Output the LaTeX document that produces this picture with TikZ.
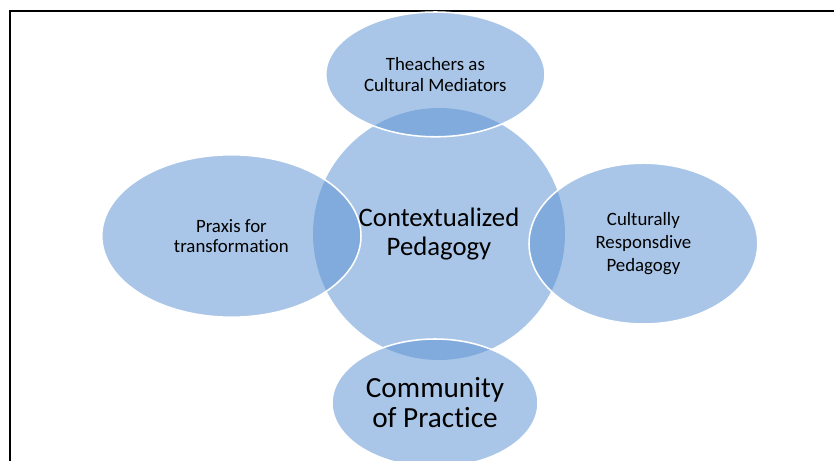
\documentclass[tikz,border=0pt]{standalone}
\usepackage{fontspec}
\setmainfont{Carlito}[Ligatures=NoCommon]
\usetikzlibrary{shapes.geometric}

\definecolor{venblue}{RGB}{91,146,210}

\begin{document}
\begin{tikzpicture}

\tikzset{
    oval/.style args={#1and#2}{
        shape=ellipse,
        minimum width=2*#1,
        minimum height=2*#2,
        inner sep=0pt,
        outer sep=0pt,
        fill=venblue,
        fill opacity=0.52,
        text opacity=1,
        align=center,
    },
    ring/.style={
        draw=white,
        line width=1.1pt,
    },
    txt/.style 2 args={
        font=\fontsize{#1}{#2}\selectfont
    }
}

\useasboundingbox (-10.975,-5.675) rectangle (9.875,5.85);

\draw[line width=1.4pt] (-10.725,-6) -- (-10.725,5.575) -- (10.2,5.575);


\node(ctx) [oval=3.15cm and 3.15cm, txt={19}{20}] at (0,0) {Contextualized\\Pedagogy};

\node(tcm) [oval=2.74cm and 1.56cm, ring, txt={13.4}{14.9}] at (-0.09,3.99) {Theachers as\\Cultural Mediators};
\node(pft) [oval=3.24cm and 2.03cm, ring, txt={13.4}{14.2}] at (-5.19,-0.05) {Praxis for\\transformation};
\node(crp) [oval=2.86cm and 2.01cm, ring, txt={13.4}{16.4}] at (5.11,-0.24) {Culturally\\Responsdive\\Pedagogy};
\node(cop) [oval=2.575cm and 1.6cm, ring, txt={20.8}{21.3}] at (-0.1,-4.225) {Community\\of Practice};


\end{tikzpicture}
\end{document}
